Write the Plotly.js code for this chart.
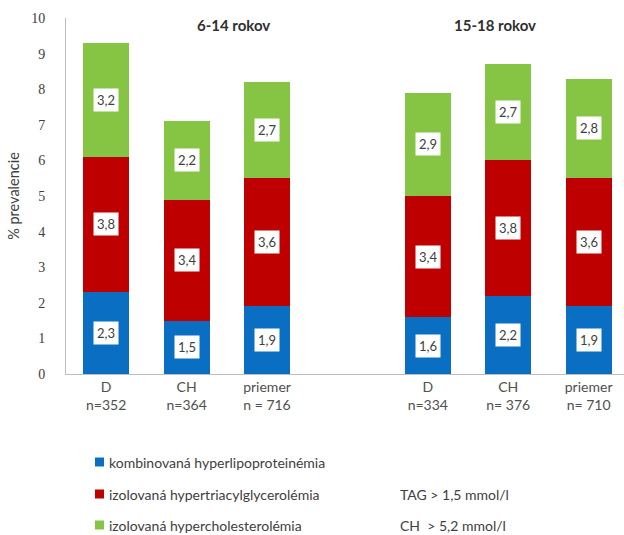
<!DOCTYPE html>
<html>
<head>
<meta charset="utf-8">
<script src="https://cdn.plot.ly/plotly-3.0.1.min.js"></script>
<style>
  html, body { margin: 0; padding: 0; background: #fff; }
  #chart { width: 624px; height: 535px; }
</style>
</head>
<body>
<div id="chart"></div>
<script>
// Category slots: three bars per age group, with one empty slot between the groups
const slots = [0, 1, 2, 4, 5, 6];
const categoryLabels = [
  'D<br>n=352', 'CH<br>n=364', 'priemer<br>n = 716',
  'D<br>n=334', 'CH<br>n= 376', 'priemer<br>n= 710'
];
const groupTitles = ['6-14 rokov', '15-18 rokov'];

// Prevalence (%) of each dyslipidemia type
const seriesNames = [
  'kombinovaná hyperlipoproteinémia',
  'izolovaná hypertriacylglycerolémia',
  'izolovaná hypercholesterolémia'
];
const seriesNotes = ['', 'TAG > 1,5 mmol/l', 'CH  > 5,2 mmol/l'];
const kombinovana = [2.3, 1.5, 1.9, 1.6, 2.2, 1.9];
const triacylglycerolemia = [3.8, 3.4, 3.6, 3.4, 3.8, 3.6];
const cholesterolemia = [3.2, 2.2, 2.7, 2.9, 2.7, 2.8];

const seriesValues = [kombinovana, triacylglycerolemia, cholesterolemia];
const colors = ['#0A6FC2', '#BE0000', '#86C443'];

// Plot area in pixels, used to place the hand-drawn legend below the axis
const plotLeft = 66, plotRight = 624, plotTop = 18, plotBottom = 374;
const W = 624, H = 535;
const pxX = x => (x - plotLeft) / (plotRight - plotLeft);
const pxY = y => (plotBottom - y) / (plotBottom - plotTop);

const textFont = 'Lato, "Liberation Sans", Arial, sans-serif';

const traces = seriesValues.map((vals, i) => ({
  type: 'bar',
  name: seriesNames[i],
  x: slots,
  y: vals,
  width: 0.57,
  marker: { color: colors[i], line: { width: 0 } },
  hoverinfo: 'y',
  showlegend: false
}));

const annotations = [];

// Value labels in white boxes at the middle of each segment
const base = slots.map(() => 0);
seriesValues.forEach(vals => {
  vals.forEach((v, j) => {
    annotations.push({
      x: slots[j], y: base[j] + v / 2, xref: 'x', yref: 'y',
      text: v.toFixed(1).replace('.', ','),
      showarrow: false,
      bgcolor: '#ffffff',
      borderpad: 3,
      font: { family: textFont, size: 13, color: '#404040' }
    });
    base[j] += v;
  });
});

// Age-group headings
[1.58, 4.83].forEach((xc, i) => {
  annotations.push({
    x: xc, y: 9.8, xref: 'x', yref: 'y',
    text: '<b>' + groupTitles[i] + '</b>',
    showarrow: false,
    font: { family: textFont, size: 15, color: '#303030' }
  });
});

// Legend rows drawn below the chart
const legendRows = [462, 494, 525];
const shapes = [];
seriesNames.forEach((name, i) => {
  const yc = legendRows[i];
  shapes.push({
    type: 'rect', xref: 'paper', yref: 'paper',
    x0: pxX(95), x1: pxX(104), y0: pxY(yc + 4.5), y1: pxY(yc - 4.5),
    fillcolor: colors[i], line: { width: 0 }
  });
  annotations.push({
    x: pxX(107), y: pxY(yc), xref: 'paper', yref: 'paper',
    xanchor: 'left', yanchor: 'middle',
    text: name, showarrow: false,
    font: { family: textFont, size: 14, color: '#404040' }
  });
  if (seriesNotes[i]) {
    annotations.push({
      x: pxX(398), y: pxY(yc), xref: 'paper', yref: 'paper',
      xanchor: 'left', yanchor: 'middle',
      text: seriesNotes[i], showarrow: false,
      font: { family: textFont, size: 14, color: '#404040' }
    });
  }
});

const layout = {
  width: W, height: H,
  margin: { l: plotLeft, r: W - plotRight, t: plotTop, b: H - plotBottom, pad: 0 },
  paper_bgcolor: '#ffffff',
  plot_bgcolor: '#ffffff',
  barmode: 'stack',
  showlegend: false,
  xaxis: {
    range: [-0.5, 6.44],
    tickmode: 'array',
    tickvals: slots,
    ticktext: categoryLabels,
    showgrid: false,
    zeroline: false,
    showline: true,
    linecolor: '#bdbdbd',
    linewidth: 1,
    ticks: '',
    ticklabelstandoff: 0,
    tickfont: { family: textFont, size: 14, color: '#505050' },
    fixedrange: true
  },
  yaxis: {
    range: [0, 10],
    tickmode: 'linear',
    tick0: 0,
    dtick: 1,
    showgrid: false,
    zeroline: false,
    showline: true,
    linecolor: '#bdbdbd',
    linewidth: 1,
    ticks: '',
    ticklabelstandoff: 17,
    tickfont: { family: '"Liberation Serif", "DejaVu Serif", serif', size: 14, color: '#404040' },
    title: {
      text: '% prevalencie',
      font: { family: textFont, size: 14.5, color: '#404040' },
      standoff: 8
    },
    fixedrange: true
  },
  annotations: annotations,
  shapes: shapes
};

Plotly.newPlot('chart', traces, layout, { displayModeBar: false, staticPlot: true });
</script>
</body>
</html>
